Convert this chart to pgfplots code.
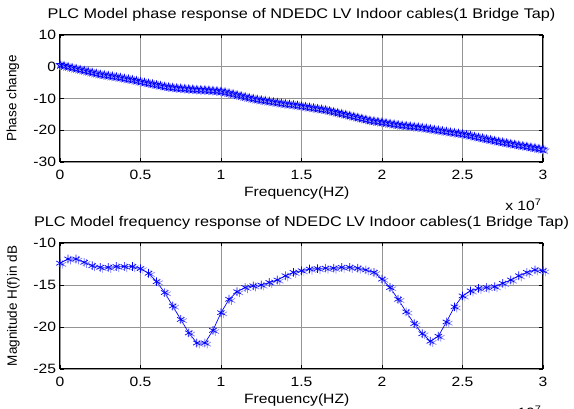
\documentclass[border=0pt]{standalone}
\usepackage{fontspec}
\setmainfont[FakeStretch=1.16]{Liberation Sans}
\newfontfamily\rotfont{Liberation Sans}
\usepackage{pgfplots}
\usepackage{pgfplotstable}
\pgfplotsset{compat=1.18}

% MATLAB style pentagram
\pgfdeclareplotmark{pentagram}{%
  \pgfpathmoveto{\pgfpointpolar{90}{\pgfplotmarksize}}%
  \pgfpathlineto{\pgfpointpolar{126}{0.4\pgfplotmarksize}}%
  \pgfpathlineto{\pgfpointpolar{162}{\pgfplotmarksize}}%
  \pgfpathlineto{\pgfpointpolar{198}{0.4\pgfplotmarksize}}%
  \pgfpathlineto{\pgfpointpolar{234}{\pgfplotmarksize}}%
  \pgfpathlineto{\pgfpointpolar{270}{0.4\pgfplotmarksize}}%
  \pgfpathlineto{\pgfpointpolar{306}{\pgfplotmarksize}}%
  \pgfpathlineto{\pgfpointpolar{342}{0.4\pgfplotmarksize}}%
  \pgfpathlineto{\pgfpointpolar{18}{\pgfplotmarksize}}%
  \pgfpathlineto{\pgfpointpolar{54}{0.4\pgfplotmarksize}}%
  \pgfpathclose\pgfusepathqstroke}

\definecolor{ghost}{RGB}{130,130,255}

% frequency in units of 1e7 Hz
\pgfplotstableread{
f ph
0.000 0.6
0.025 0.3
0.050 0.0
0.075 -0.3
0.100 -0.6
0.125 -0.9
0.150 -1.2
0.175 -1.5
0.200 -1.8
0.225 -2.1
0.250 -2.4
0.275 -2.6
0.300 -2.8
0.325 -3.0
0.350 -3.2
0.375 -3.4
0.400 -3.7
0.425 -3.9
0.450 -4.1
0.475 -4.4
0.500 -4.7
0.525 -4.95
0.550 -5.2
0.575 -5.45
0.600 -5.7
0.625 -5.95
0.650 -6.2
0.675 -6.4
0.700 -6.55
0.725 -6.7
0.750 -6.8
0.775 -6.9
0.800 -7.0
0.825 -7.1
0.850 -7.2
0.875 -7.25
0.900 -7.3
0.925 -7.4
0.950 -7.5
0.975 -7.6
1.000 -7.75
1.025 -8.0
1.050 -8.3
1.075 -8.6
1.100 -8.9
1.125 -9.2
1.150 -9.5
1.175 -9.8
1.200 -10.05
1.225 -10.3
1.250 -10.5
1.275 -10.7
1.300 -10.9
1.325 -11.1
1.350 -11.3
1.375 -11.5
1.400 -11.7
1.425 -11.85
1.450 -12.0
1.475 -12.2
1.500 -12.4
1.525 -12.6
1.550 -12.8
1.575 -13.0
1.600 -13.2
1.625 -13.4
1.650 -13.6
1.675 -13.9
1.700 -14.2
1.725 -14.5
1.750 -14.8
1.775 -15.1
1.800 -15.4
1.825 -15.7
1.850 -16.0
1.875 -16.3
1.900 -16.6
1.925 -16.9
1.950 -17.1
1.975 -17.3
2.000 -17.5
2.025 -17.7
2.050 -17.9
2.075 -18.1
2.100 -18.3
2.125 -18.45
2.150 -18.6
2.175 -18.75
2.200 -18.9
2.225 -19.05
2.250 -19.2
2.275 -19.4
2.300 -19.6
2.325 -19.8
2.350 -20.0
2.375 -20.2
2.400 -20.4
2.425 -20.6
2.450 -20.8
2.475 -21.0
2.500 -21.2
2.525 -21.45
2.550 -21.7
2.575 -22.0
2.600 -22.25
2.625 -22.5
2.650 -22.8
2.675 -23.0
2.700 -23.3
2.725 -23.55
2.750 -23.8
2.775 -24.0
2.800 -24.25
2.825 -24.45
2.850 -24.7
2.875 -24.9
2.900 -25.1
2.925 -25.35
2.950 -25.55
2.975 -25.8
3.000 -26.0
}\phasetab

\pgfplotstableread{
f mag
0.00 -12.4
0.05 -11.9
0.10 -11.9
0.15 -12.3
0.20 -12.7
0.25 -12.9
0.30 -12.9
0.35 -12.8
0.40 -12.8
0.45 -12.8
0.50 -13.05
0.55 -13.6
0.60 -14.6
0.65 -15.9
0.70 -17.5
0.75 -19.1
0.80 -20.7
0.85 -21.9
0.90 -21.9
0.95 -20.4
1.00 -18.3
1.05 -16.7
1.10 -15.8
1.15 -15.3
1.20 -15.1
1.25 -15.0
1.30 -14.7
1.35 -14.4
1.40 -13.9
1.45 -13.5
1.50 -13.3
1.55 -13.1
1.60 -13.05
1.65 -13.0
1.70 -13.0
1.75 -12.9
1.80 -12.9
1.85 -13.0
1.90 -13.2
1.95 -13.5
2.00 -14.3
2.05 -15.3
2.10 -16.7
2.15 -18.2
2.20 -19.6
2.25 -20.8
2.30 -21.7
2.35 -21.1
2.40 -19.4
2.45 -17.6
2.50 -16.3
2.55 -15.7
2.60 -15.4
2.65 -15.3
2.70 -15.2
2.75 -14.8
2.80 -14.4
2.85 -13.9
2.90 -13.5
2.95 -13.2
3.00 -13.3
}\magtab

\newcommand\fs{\fontsize{13.5}{15}\selectfont}

\pgfplotsset{
  mlab/.style={
    scale only axis, width=483pt,
    xmin=0, xmax=3,
    xtick={0,0.5,1,1.5,2,2.5,3},
    xticklabels={0,0.5,1,1.5,2,2.5,3},
    grid=major,
    major grid style={black!42, line width=0.6pt},
    axis line style={line width=1pt},
    tick align=inside, major tick length=3.5pt,
    tick style={black, line width=0.6pt},
    ticklabel style={font=\fs},
    xticklabel style={yshift=-4.5pt},
    yticklabel style={xshift=-0.5pt},
    xlabel style={font=\fs, at={(axis description cs:0.49,0)}, anchor=base, yshift=-35pt},
    title style={font=\fontsize{14}{16}\selectfont, at={(axis description cs:0.5,1)}, anchor=base, yshift=10pt},
    clip=false,
  },
}

\begin{document}
\begin{tikzpicture}
\path[use as bounding box] (0pt,0pt) rectangle (574pt,409pt);

\begin{axis}[mlab,
  at={(60pt,247pt)}, anchor=south west, height=127pt,
  ymin=-30, ymax=10,
  ytick={-30,-20,-10,0,10},
  yticklabels={-30,-20,-10,0,10},
  title={PLC Model phase response of NDEDC LV Indoor cables(1 Bridge Tap)},
  xlabel={Frequency(HZ)},
  ylabel={\rotfont\fs Phase change},
  ylabel style={at={(axis description cs:-0.0973,0.5)}, anchor=center},
]
\addplot[draw=none, mark=pentagram, mark size=4pt,
  mark options={ghost, line width=0.7pt, xshift=2pt, yshift=-1pt}]
  table[x=f, y=ph] {\phasetab};
\addplot[blue, line width=0.7pt, mark=pentagram, mark size=4pt,
  mark options={blue, line width=0.7pt}]
  table[x=f, y=ph] {\phasetab};
\node[anchor=base east, font=\fs] at (rel axis cs:1,0) [xshift=2pt, yshift=-49pt] {x 10\textsuperscript{7}};
\end{axis}

\begin{axis}[mlab,
  at={(60pt,40pt)}, anchor=south west, height=126pt,
  ymin=-25, ymax=-10,
  ytick={-25,-20,-15,-10},
  yticklabels={-25,-20,-15,-10},
  title={PLC Model frequency response of NDEDC LV Indoor cables(1 Bridge Tap)},
  xlabel={Frequency(HZ)},
  ylabel={\rotfont\fs Magnitude H(f)in dB},
  ylabel style={at={(axis description cs:-0.0963,0.5)}, anchor=center},
]
\addplot[draw=none, mark=asterisk, mark size=4.3pt,
  mark options={ghost, line width=0.7pt, xshift=2.4pt, yshift=-1.2pt}]
  table[x=f, y=mag] {\magtab};
\addplot[blue, line width=0.7pt, mark=asterisk, mark size=4.3pt,
  mark options={blue, line width=0.7pt}]
  table[x=f, y=mag] {\magtab};
\node[anchor=base east, font=\fs] at (rel axis cs:1,0) [xshift=2pt, yshift=-49pt] {x 10\textsuperscript{7}};
\end{axis}
\end{tikzpicture}
\end{document}
